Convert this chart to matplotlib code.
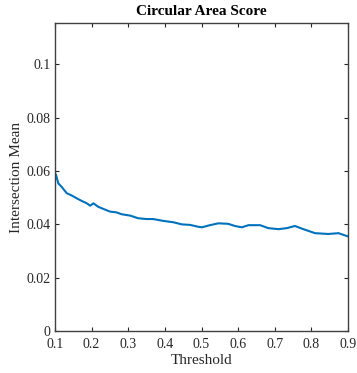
import matplotlib.pyplot as plt

threshold = [0.100, 0.103, 0.109, 0.118, 0.132, 0.146, 0.159, 0.173, 0.187, 0.196,
             0.205, 0.218, 0.232, 0.250, 0.268, 0.282, 0.305, 0.327, 0.350, 0.368,
             0.396, 0.423, 0.446, 0.469, 0.491, 0.501, 0.523, 0.546, 0.573, 0.591,
             0.610, 0.628, 0.660, 0.682, 0.710, 0.733, 0.755, 0.778, 0.810, 0.846,
             0.874, 0.897, 0.900]
inter_mean = [0.0592, 0.0585, 0.0554, 0.0541, 0.0517, 0.0508, 0.0498, 0.0488, 0.0479, 0.0470,
              0.0479, 0.0466, 0.0458, 0.0448, 0.0445, 0.0438, 0.0433, 0.0423, 0.0420, 0.0420,
              0.0413, 0.0408, 0.0400, 0.0398, 0.0391, 0.0389, 0.0397, 0.0404, 0.0402, 0.0394,
              0.0389, 0.0397, 0.0397, 0.0386, 0.0382, 0.0386, 0.0394, 0.0382, 0.0367, 0.0364,
              0.0367, 0.0356, 0.0355]

plt.rcParams['font.family'] = 'Liberation Serif'
fig = plt.figure(figsize=(3.57, 3.73), dpi=100)
ax = fig.add_axes([0.154, 0.1126, 0.821, 0.8254])
ax.plot(threshold, inter_mean, color='#0072BD', linewidth=1.5)

ax.set_xlim(0.1, 0.9)
ax.set_ylim(0, 0.1155)
ax.set_xticks([0.1, 0.2, 0.3, 0.4, 0.5, 0.6, 0.7, 0.8, 0.9])
ax.set_xticklabels(['0.1', '0.2', '0.3', '0.4', '0.5', '0.6', '0.7', '0.8', '0.9'])
ax.set_yticks([0, 0.02, 0.04, 0.06, 0.08, 0.1])
ax.set_yticklabels(['0', '0.02', '0.04', '0.06', '0.08', '0.1'])
ax.tick_params(direction='in', top=True, right=True, length=3, width=0.8,
               labelsize=10, colors='#262626')
ax.tick_params(axis='x', pad=5)
ax.tick_params(axis='y', pad=3)
for s in ax.spines.values():
    s.set_color('#404040')
    s.set_linewidth(1.0)

ax.set_xlabel('Threshold', fontsize=11, color='#262626', labelpad=2)
ax.set_ylabel('Intersection Mean', fontsize=11, color='#262626', labelpad=3)
ax.set_title('Circular Area Score', fontsize=11, fontweight='bold', pad=6)

fig.savefig('out.png', dpi=100)
